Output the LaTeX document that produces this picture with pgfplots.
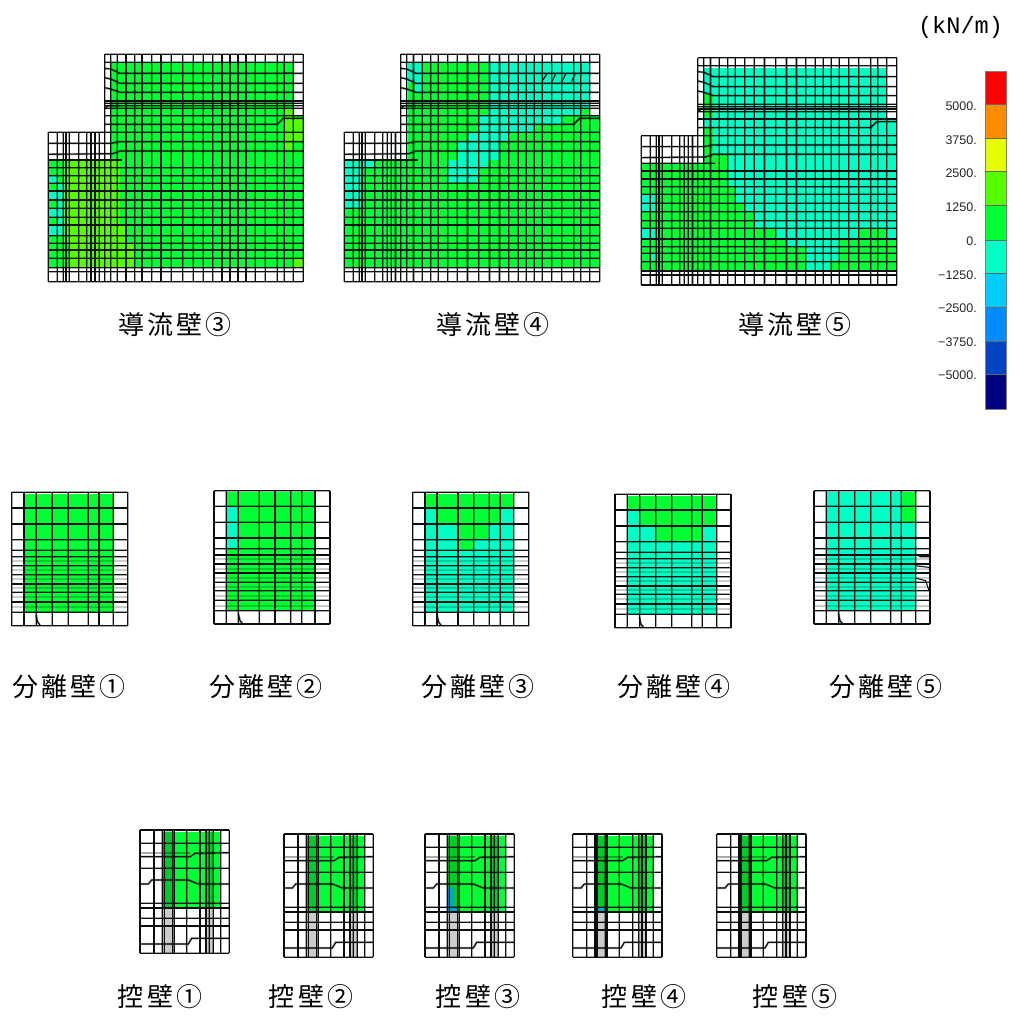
\documentclass[border=0pt]{standalone}
\usepackage{fontspec}
\usepackage{pgfplots}
\pgfplotsset{compat=1.18}
\setmainfont{Liberation Sans}
\newfontfamily\cjk[LetterSpace=12]{Noto Sans CJK JP}
\newfontfamily\mono{Liberation Mono}
\definecolor{cg}{HTML}{00FF33}
\definecolor{cl}{HTML}{55FF00}
\definecolor{ct}{HTML}{00FFC4}
\definecolor{cc}{HTML}{00CCFF}
\definecolor{cb}{HTML}{008CFF}
\definecolor{cd}{HTML}{0044C4}
\definecolor{cn}{HTML}{000080}
\definecolor{cy}{HTML}{E6FF00}
\definecolor{co}{HTML}{FF8C00}
\definecolor{cr}{HTML}{FF0000}
\pgfplotsset{
  halo/.style={draw=black,draw opacity=.33,line width=2.2bp},
  core/.style={draw=black!95,line width=1.1bp},
  panel/.style n args={3}{at={(#1bp,-#2bp)},anchor=north west,x=#3bp,y=0.33333bp,y dir=reverse,
    hide axis,clip=false,xmin=0,ymin=0,scale only axis},
}
\newcommand\cell[5]{\addplot[draw=none,fill=#1] coordinates {(#2,#3)(#4,#3)(#4,#5)(#2,#5)};}
% ---- large wall mesh, in 3x pixel units
\newcommand\wallmesh[1]{%
  \pgfplotsinvokeforeach{25,52,70,78,88,116,140,153,165,178}{\addplot[#1] coordinates {(##1,262)(##1,710)};}
  \pgfplotsinvokeforeach{194,212,232,258,284,306,335,363,394,428,460,490,518,546,570,594,618,646,676,712,733,760,790}{\addplot[#1] coordinates {(##1,28)(##1,710)};}
  \pgfplotsinvokeforeach{28,52,168,175,182,190,212}{\addplot[#1] coordinates {(194,##1)(790,##1)};}
  \pgfplotsinvokeforeach{262,368,392,415,438,465,490,517,540,572,595,615,640,668,680,710}{\addplot[#1] coordinates {(25,##1)(790,##1)};}
  \addplot[#1] coordinates {(194,70)(212,72)(240,85)(790,85)};
  \addplot[#1] coordinates {(194,98)(212,102)(240,115)(790,115)};
  \addplot[#1] coordinates {(194,128)(212,132)(240,142)(790,142)};
  \addplot[#1] coordinates {(194,238)(712,238)(730,220)(790,220)};
  \addplot[#1] coordinates {(25,295)(212,295)(240,290)(790,290)};
  \addplot[#1] coordinates {(25,328)(218,326)(240,318)(790,318)};
  \addplot[#1] coordinates {(25,345)(245,345)};
  \addplot[#1] coordinates {(194,190)(205,182)(240,182)};
  \addplot[#1] coordinates {(733,58)(733,85)(760,85)};
}
\newcommand\wall{\wallmesh{halo}\wallmesh{core}}
% ---- separation wall mesh
\newcommand\sepmesh[2]{%
  \pgfplotsinvokeforeach{#2}{\addplot[#1] coordinates {(##1,0)(##1,400)};}
  \pgfplotsinvokeforeach{0,47,95,142,174,193,220,247,275,300,329,360,400}{\addplot[#1] coordinates {(0,##1)(348,##1)};}
  \addplot[#1] coordinates {(73,368)(78,390)(85,398)};
}
\newcommand\sepextra{\pgfplotsinvokeforeach{206,234,261,288,315,345}{\addplot[draw=black,draw opacity=.2,line width=2bp] coordinates {(0,##1)(348,##1)};}}
\newcommand\sepA{\sepextra\sepmesh{halo}{0,37,74,122,170,230,262,305,348}\sepmesh{core}{0,37,74,122,170,230,262,305,348}}
\newcommand\sepB{\sepextra\sepmesh{halo}{0,37,73,136,183,230,263,303,348}\sepmesh{core}{0,37,73,136,183,230,263,303,348}}
% ---- buttress mesh
\newcommand\butmesh[1]{%
  \pgfplotsinvokeforeach{0,42,67,73,98,103,140,180,198,208,220,242,268}{\addplot[#1] coordinates {(##1,0)(##1,370)};}
  \pgfplotsinvokeforeach{0,40,115,220,234,265,288,370}{\addplot[#1] coordinates {(0,##1)(268,##1)};}
  \addplot[#1] coordinates {(0,80)(150,80)(165,70)(268,68)};
  \addplot[#1] coordinates {(0,162)(25,162)(35,150)(145,150)(175,162)(268,162)};
  \addplot[#1] coordinates {(0,342)(145,342)(155,325)(268,325)};
}
\newcommand\but{%
  \addplot[draw=none,fill=black,fill opacity=.2] coordinates {(73,0)(98,0)(98,370)(73,370)};
  \addplot[draw=none,fill=black,fill opacity=.2] coordinates {(198,0)(220,0)(220,370)(198,370)};
  \addplot[draw=black,draw opacity=.33,line width=2.2bp] coordinates {(0,68)(150,68)};
  \butmesh{halo}\butmesh{core}}
\newcommand\bfill{\cell{cg}{67}{5}{242}{232}}
\begin{document}
\begin{tikzpicture}
\path[use as bounding box] (0,0) rectangle (1013bp,-1019bp);
%%% wall 3
\begin{axis}[panel={40}{45}{0.33333},xmax=810,ymax=735]
  \cell{cg}{214}{52}{760}{212}
  \cell{cg}{214}{212}{790}{668}
  \cell{cg}{25}{345}{214}{668}
  \cell{cl}{70}{345}{240}{540}
  \cell{cl}{70}{540}{255}{595}
  \cell{cl}{88}{595}{283}{666}
  \cell{cl}{730}{190}{760}{318}
  \cell{cl}{760}{220}{790}{290}
  \cell{cl}{760}{640}{790}{666}
  \cell{ct}{25}{392}{52}{415}
  \cell{ct}{52}{415}{70}{540}
  \cell{ct}{25}{438}{52}{465}
  \cell{ct}{25}{490}{52}{517}
  \cell{ct}{25}{540}{70}{572}
  \wall
\end{axis}
%%% wall 4 fills
\begin{axis}[panel={335}{45}{0.33333},xmax=825,ymax=735]
  \cell{cg}{218}{52}{765}{212}
  \cell{cg}{218}{212}{795}{668}
  \cell{cg}{28}{345}{218}{668}
  \cell{ct}{28}{345}{118}{370}
  \cell{ct}{28}{370}{80}{490}
  \cell{ct}{218}{52}{260}{115}
  \cell{ct}{240}{115}{260}{140}
  \cell{ct}{460}{52}{765}{190}
  \cell{ct}{460}{190}{735}{212}
  \cell{ct}{430}{212}{680}{238}
  \cell{ct}{430}{238}{595}{262}
  \cell{ct}{400}{262}{525}{292}
  \cell{ct}{370}{292}{495}{345}
  \cell{ct}{340}{345}{460}{368}
  \cell{ct}{340}{368}{430}{412}
\end{axis}
\begin{axis}[panel={336}{45}{0.3338},xmax=810,ymax=735]
  \wall
  \addplot[core] coordinates {(617,110)(632,85)};
  \addplot[core] coordinates {(647,110)(659,85)};
  \addplot[core] coordinates {(677,110)(689,85)};
  \addplot[core] coordinates {(705,110)(717,85)};
\end{axis}
%%% wall 5 fills
\begin{axis}[panel={630}{45}{0.33333},xmax=825,ymax=735]
  \cell{ct}{222}{68}{770}{222}
  \cell{ct}{222}{222}{797}{678}
  \cell{cg}{35}{355}{222}{678}
  \cell{cg}{222}{330}{292}{425}
  \cell{cg}{222}{425}{318}{475}
  \cell{cg}{222}{475}{345}{500}
  \cell{cg}{222}{500}{370}{550}
  \cell{cg}{222}{550}{435}{582}
  \cell{cg}{222}{582}{465}{605}
  \cell{cg}{222}{605}{528}{678}
  \cell{cg}{222}{145}{248}{215}
  \cell{cg}{222}{245}{248}{330}
  \cell{cg}{685}{550}{770}{582}
  \cell{cg}{628}{582}{797}{650}
  \cell{cg}{600}{650}{797}{678}
  \cell{ct}{35}{448}{75}{498}
  \cell{ct}{35}{550}{75}{582}
  \cell{ct}{60}{628}{75}{645}
\end{axis}
\begin{axis}[panel={633}{48.3}{0.33385},xmax=810,ymax=735]
  \wall
\end{axis}
%%% separation walls
\begin{axis}[panel={11.7}{492.3}{0.33333},xmax=348,ymax=400]
  \cell{cg}{37}{5}{305}{360}
  \sepA
\end{axis}
\begin{axis}[panel={214}{490.7}{0.33333},xmax=348,ymax=400]
  \cell{cg}{37}{5}{303}{360}
  \cell{ct}{37}{48}{73}{174}
  \sepB
\end{axis}
\begin{axis}[panel={412.7}{492.3}{0.33333},xmax=348,ymax=400]
  \cell{ct}{37}{5}{303}{360}
  \cell{cg}{37}{5}{303}{47}
  \cell{cg}{73}{47}{263}{95}
  \cell{cg}{136}{95}{225}{142}
  \cell{cg}{136}{142}{183}{174}
  \sepB
\end{axis}
\begin{axis}[panel={615}{494.3}{0.33333},xmax=348,ymax=400]
  \cell{ct}{37}{5}{305}{360}
  \cell{cg}{37}{5}{305}{47}
  \cell{cg}{74}{47}{305}{95}
  \cell{cg}{122}{95}{262}{142}
  \sepA
\end{axis}
\begin{axis}[panel={814}{490.7}{0.33333},xmax=348,ymax=400]
  \cell{ct}{37}{5}{305}{360}
  \cell{cg}{262}{5}{305}{95}
  \sepA
  \addplot[core] coordinates {(303,190)(320,198)(345,198)};
  \addplot[core] coordinates {(303,225)(345,230)};
  \addplot[core] coordinates {(305,262)(335,270)(345,300)};
\end{axis}
%%% buttresses
\begin{axis}[panel={140}{830}{0.33333},xmax=268,ymax=370]
  \bfill \but
\end{axis}
\begin{axis}[panel={284}{834}{0.33333},xmax=268,ymax=370]
  \bfill \but
\end{axis}
\begin{axis}[panel={425}{834}{0.33333},xmax=268,ymax=370]
  \bfill
  \cell{cc}{70}{158}{88}{220}
  \cell{cc}{70}{220}{100}{233}
  \but
\end{axis}
\begin{axis}[panel={572.7}{834}{0.33333},xmax=268,ymax=370]
  \bfill
  \cell{cc}{72}{220}{102}{233}
  \but
\end{axis}
\begin{axis}[panel={716.7}{834}{0.33333},xmax=268,ymax=370]
  \bfill \but
\end{axis}
%%% colour bar
\begin{axis}[at={(985bp,-71bp)},anchor=north west,x=1bp,y=1bp,y dir=reverse,hide axis,clip=false,
  xmin=0,xmax=21.7,ymin=71,ymax=409,scale only axis]
  \cell{cr}{0}{71}{21.7}{104.3}
  \cell{co}{0}{104.3}{21.7}{138.3}
  \cell{cy}{0}{138.3}{21.7}{171}
  \cell{cl}{0}{171}{21.7}{205.7}
  \cell{cg}{0}{205.7}{21.7}{240}
  \cell{ct}{0}{240}{21.7}{273.3}
  \cell{cc}{0}{273.3}{21.7}{307.3}
  \cell{cb}{0}{307.3}{21.7}{341}
  \cell{cd}{0}{341}{21.7}{374.3}
  \cell{cn}{0}{374.3}{21.7}{409}
  \addplot[draw=black!50,line width=.7bp] coordinates {(0,71)(21.7,71)(21.7,409)(0,409)(0,71)};
  \pgfplotsinvokeforeach{104.3,138.3,171,205.7,240,273.3,307.3,341,374.3}{\addplot[draw=black!60,line width=.6bp] coordinates {(0,#1)(21.7,#1)};}
\end{axis}
%%% text
\newcommand\lab[3]{\node[anchor=center,inner sep=0pt,font=\cjk\fontsize{26bp}{26bp}\selectfont] at (#1bp,-#2bp) {#3};}
\lab{175}{325}{導流壁③}
\lab{493}{325}{導流壁④}
\lab{795}{325}{導流壁⑤}
\lab{69}{687}{分離壁①}
\lab{266}{687}{分離壁②}
\lab{478}{687}{分離壁③}
\lab{674}{687}{分離壁④}
\lab{886}{687}{分離壁⑤}
\lab{160}{997}{控壁①}
\lab{311}{997}{控壁②}
\lab{478}{997}{控壁③}
\lab{644}{997}{控壁④}
\lab{795}{997}{控壁⑤}
\node[inner sep=0pt,font=\mono\fontsize{23.6bp}{24bp}\selectfont] at (960.5bp,-27bp) {(kN/m)};
\newcommand\tk[2]{\node[anchor=east,inner sep=0pt,text=black!85,font=\fontsize{12.5bp}{12.5bp}\selectfont] at (977bp,-#1bp) {#2};}
\tk{106}{5000.}
\tk{140}{3750.}
\tk{173}{2500.}
\tk{207}{1250.}
\tk{241}{0.}
\tk{275}{−1250.}
\tk{308}{−2500.}
\tk{342}{−3750.}
\tk{375}{−5000.}
\end{tikzpicture}
\end{document}
